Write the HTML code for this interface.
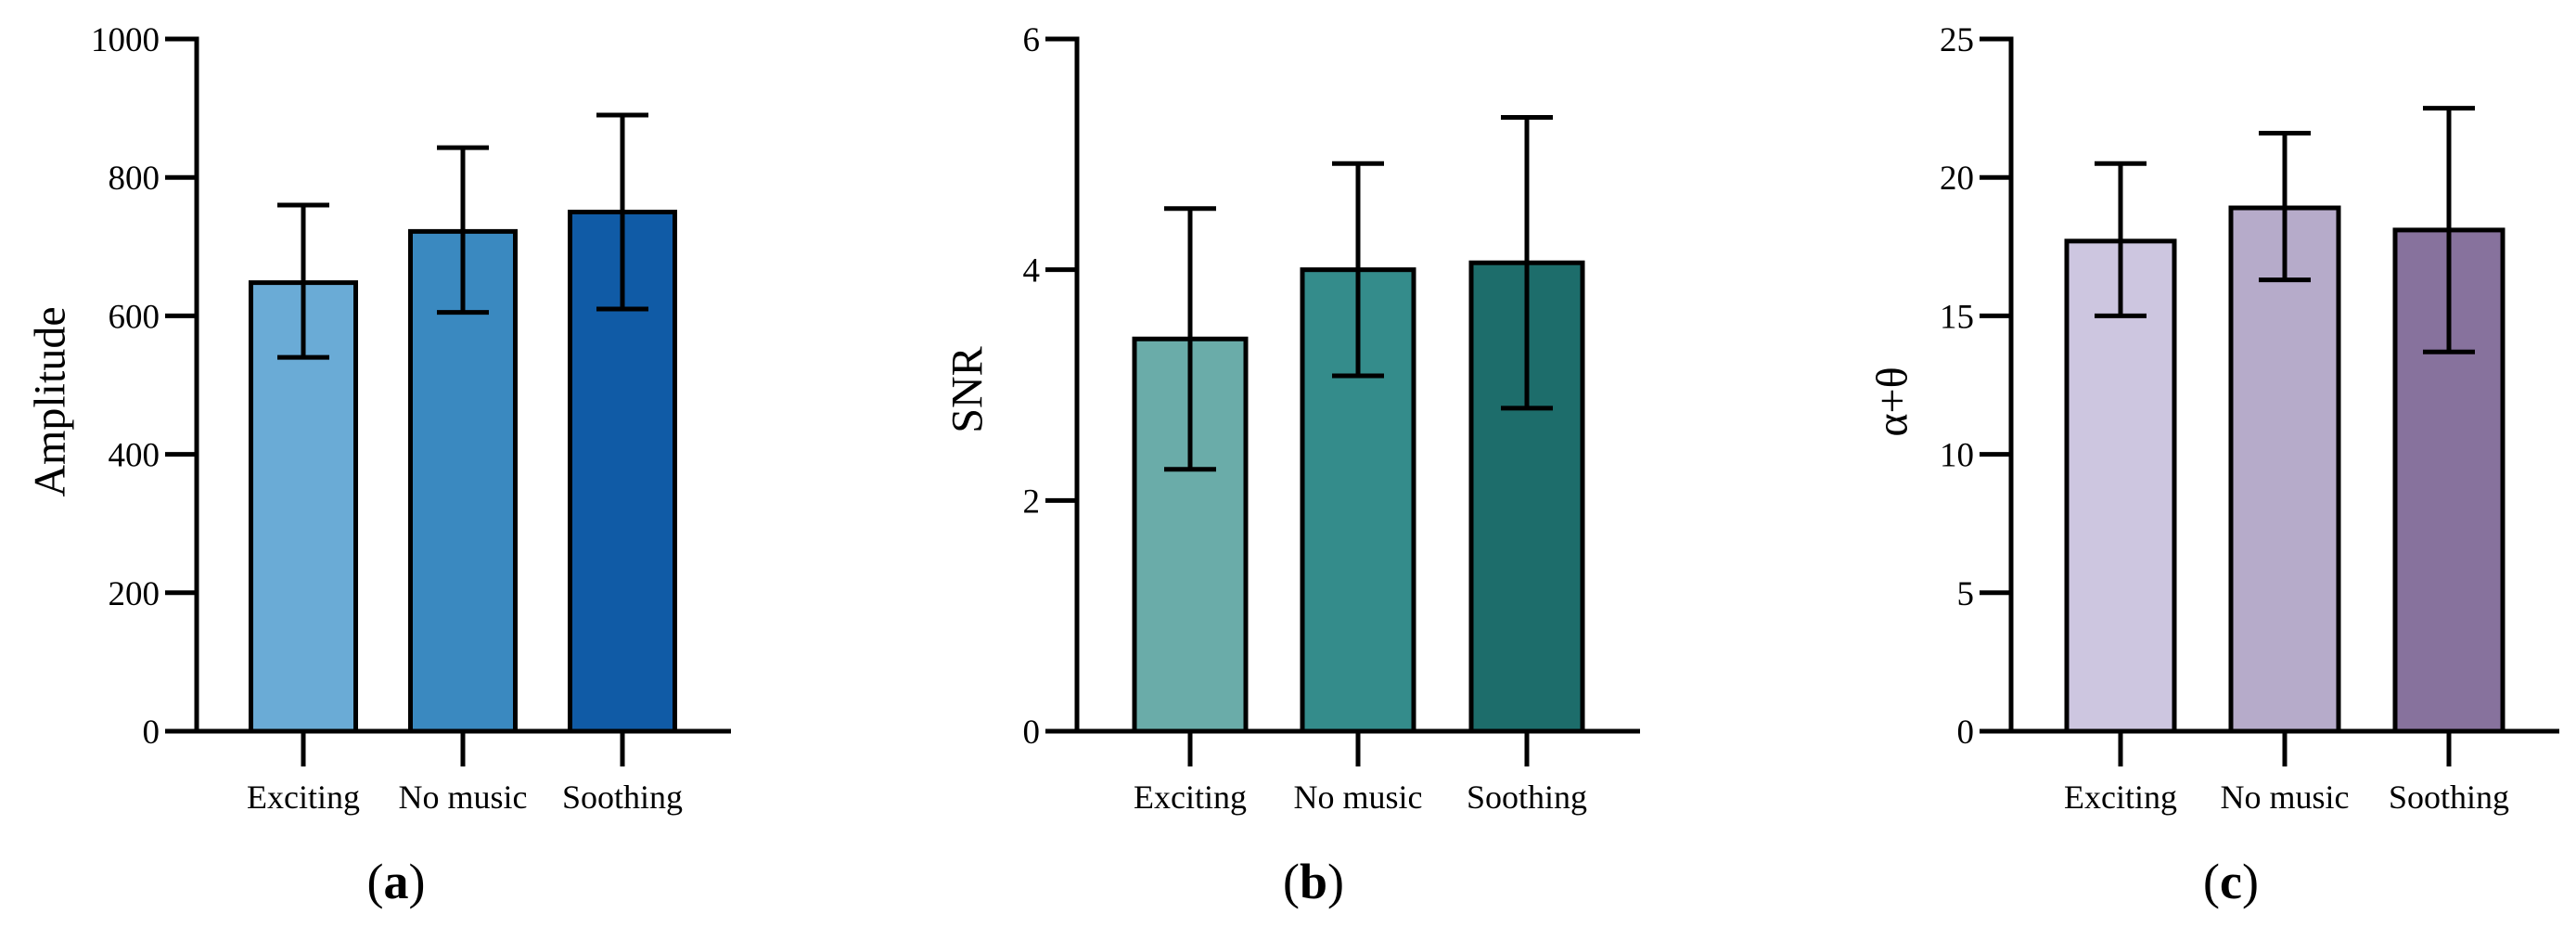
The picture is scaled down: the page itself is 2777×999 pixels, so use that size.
<!DOCTYPE html>
<html><head><meta charset="utf-8"><style>
html,body{margin:0;padding:0;background:#fff;}
svg{display:block;font-family:"Liberation Serif",serif;}
</style></head><body>
<svg id="chart" width="2777" height="999" viewBox="0 0 2777 999" xmlns="http://www.w3.org/2000/svg"></svg>
<script>
const categories = ["Exciting","No music","Soothing"];
const ampMeans = [648, 722, 750];
const ampUpper = [760, 843, 890];
const ampLower = [540, 605, 610];
const ampTicks = [0,200,400,600,800,1000];
const snrMeans = [3.4, 4.0, 4.06];
const snrUpper = [4.53, 4.92, 5.32];
const snrLower = [2.27, 3.08, 2.80];
const snrTicks = [0,2,4,6];
const atMeans = [17.7, 18.9, 18.1];
const atUpper = [20.5, 21.6, 22.5];
const atLower = [15.0, 16.3, 13.7];
const atTicks = [0,5,10,15,20,25];

const NS="http://www.w3.org/2000/svg";
const svg=document.getElementById('chart');
function mk(tag,attrs,parent){const e=document.createElementNS(NS,tag);for(const k in attrs)e.setAttribute(k,attrs[k]);(parent||svg).appendChild(e);return e;}

const panels=[
 {id:'a',means:ampMeans,up:ampUpper,lo:ampLower,ticks:ampTicks,max:1000,axisX:212,endX:788,centers:[327,499,671],bw:113,colors:['#6aabd6','#3a89c0','#105ba6'],title:'Amplitude',tx:54,ty:433,lx:427},
 {id:'b',means:snrMeans,up:snrUpper,lo:snrLower,ticks:snrTicks,max:6,axisX:1161,endX:1768,centers:[1283,1464,1646],bw:120,colors:['#6aaca9','#348c8b','#1d6d6b'],title:'SNR',tx:1043,ty:420,lx:1416},
 {id:'c',means:atMeans,up:atUpper,lo:atLower,ticks:atTicks,max:25,axisX:2168,endX:2759,centers:[2286,2463,2640],bw:116,colors:['#cdc6e0','#b6abca','#87729d'],title:'α+θ',tx:2040,ty:433,lx:2405}
];
const Y0=788, Y1=42;
panels.forEach(p=>{
  const g=mk('g',{});
  
  
  const y=v=>Y0-(v/p.max)*(Y0-Y1);
  p.means.forEach((m,i)=>{
    const cx=p.centers[i];
    const r=mk('rect',{x:cx-p.bw/2,y:y(m),width:p.bw,height:Y0-y(m),fill:p.colors[i],stroke:'#000','stroke-width':5},g);
    
    
    const eb=mk('path',{d:`M${cx},${y(p.up[i])}V${y(p.lo[i])}M${cx-28},${y(p.up[i])}H${cx+28}M${cx-28},${y(p.lo[i])}H${cx+28}`,stroke:'#000','stroke-width':5,fill:'none'},g);
    
    
    mk('line',{x1:cx,y1:Y0,x2:cx,y2:826,stroke:'#000','stroke-width':5},g);
    const t=mk('text',{x:cx,y:871,'font-size':36,'text-anchor':'middle'},g);
    t.textContent=categories[i];
    
    
  });
  const ax=mk('path',{d:`M${p.axisX},${Y1-2.5}V${Y0}M${p.axisX-34},${Y0}H${p.endX}`,stroke:'#000','stroke-width':5,fill:'none'},g);
  
  
  p.ticks.forEach(v=>{
    mk('line',{x1:p.axisX-34,y1:y(v),x2:p.axisX,y2:y(v),stroke:'#000','stroke-width':5},g);
    const t=mk('text',{x:p.axisX-40,y:y(v)+13,'font-size':37,'text-anchor':'end'},g);
    t.textContent=v;
    
    
  });
  const tt=mk('text',{x:p.tx,y:p.ty,'font-size':48,'text-anchor':'middle',transform:`rotate(-90 ${p.tx} ${p.ty})`,'dominant-baseline':'central'},g);
  tt.textContent=p.title;
  
  
  const lb=mk('text',{x:p.lx,y:968,'font-size':54,'text-anchor':'middle'},g);
  lb.innerHTML='(<tspan font-weight="bold">'+p.id+'</tspan>)';
  
  
});
</script>
</body></html>
